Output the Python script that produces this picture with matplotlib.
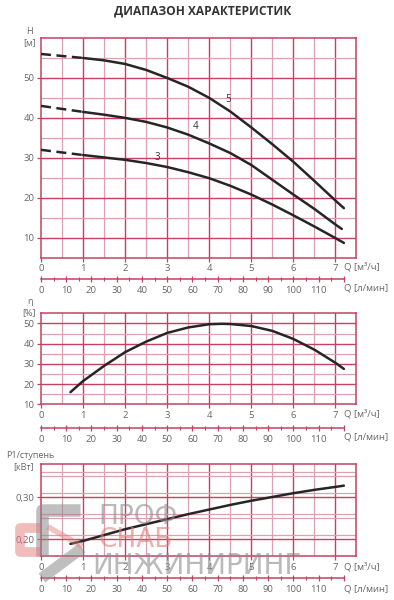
import matplotlib
matplotlib.use("Agg")
import matplotlib.pyplot as plt
from matplotlib.ticker import MultipleLocator, FixedLocator, FuncFormatter
import numpy as np

plt.rcParams['font.family'] = ['Open Sans', 'DejaVu Sans']

# ---------------- data ----------------
title = "ДИАПАЗОН ХАРАКТЕРИСТИК"

# H(Q) curves: dashed part (extrapolated) and solid part
h_curve_labels = ["3", "4", "5"]
h_dash_q = [0.0, 1.0]
h3_dash = [32.0, 30.7]
h4_dash = [43.0, 41.5]
h5_dash = [56.0, 55.0]

q3 = [1.0, 1.5, 2.0, 2.5, 3.0, 3.5, 4.0, 4.5, 5.0, 5.5, 6.0, 6.5, 7.0, 7.2]
h3 = [30.7, 30.1, 29.5, 28.7, 27.7, 26.4, 24.9, 23.0, 20.8, 18.3, 15.6, 12.8, 9.9, 8.7]

q4 = [1.0, 1.5, 2.0, 2.5, 3.0, 3.5, 4.0, 4.5, 5.0, 5.5, 6.0, 6.5, 7.0, 7.15]
h4 = [41.5, 40.8, 40.0, 39.0, 37.6, 35.8, 33.6, 31.2, 28.2, 24.5, 20.8, 17.2, 13.3, 12.2]

q5 = [1.0, 1.5, 2.0, 2.5, 3.0, 3.5, 4.0, 4.5, 5.0, 5.5, 6.0, 6.5, 7.0, 7.2]
h5 = [55.0, 54.4, 53.5, 52.0, 50.0, 47.8, 45.0, 41.6, 37.6, 33.4, 29.0, 24.2, 19.3, 17.4]

# efficiency
q_eta = [0.7, 1.0, 1.5, 2.0, 2.5, 3.0, 3.5, 4.0, 4.3, 4.5, 5.0, 5.5, 6.0, 6.5, 7.0, 7.2]
eta = [16.0, 21.5, 29.0, 35.8, 41.0, 45.3, 48.0, 49.6, 49.8, 49.7, 48.7, 46.3, 42.3, 37.0, 30.5, 27.5]

# power per stage
q_p = [0.7, 1.0, 1.5, 2.0, 2.5, 3.0, 3.5, 4.0, 4.5, 5.0, 5.5, 6.0, 6.5, 7.0, 7.2]
p1 = [0.189, 0.196, 0.210, 0.224, 0.236, 0.248, 0.260, 0.271, 0.282, 0.292, 0.301, 0.310, 0.318, 0.325, 0.328]

q_m3h_ticks = [0, 1, 2, 3, 4, 5, 6, 7]
q_lmin_ticks = [0, 10, 20, 30, 40, 50, 60, 70, 80, 90, 100, 110]

# ---------------- style ----------------
W, H = 394, 600
fig = plt.figure(figsize=(W / 100, H / 100), dpi=100)

MAJ = "#c4415f"
MIN = "#dba2b2"
CURVE = "#262626"
TXT = "#666666"
XMAX = 7.476
L = 41 / W
WID = (355.5 - 41) / W


def rect(top, bottom):
    return [L, 1 - bottom / H, WID, (bottom - top) / H]


def style_grid(ax, ymin, ymax, ymaj, ymin_step, yfmt):
    ax.set_xlim(0, XMAX)
    ax.set_ylim(ymin, ymax)
    # vertical lines
    for x in np.arange(0.5, 7.6, 0.5):
        major = abs(x - round(x)) < 1e-6
        ax.axvline(x, color=MAJ if major else MIN, lw=1.0 if major else 0.9, zorder=1)
    yv = ymin
    k = 0
    ys = np.arange(ymin, ymax + 1e-9, ymin_step)
    for y in ys:
        if y <= ymin + 1e-9 or y >= ymax - 1e-9:
            continue
        major = abs((y / ymaj) - round(y / ymaj)) < 1e-6
        ax.axhline(y, color=MAJ if major else MIN, lw=1.0 if major else 0.9, zorder=1)
    for s in ax.spines.values():
        s.set_color(MAJ)
        s.set_linewidth(1.1)
    ax.set_xticks(q_m3h_ticks)
    ax.tick_params(axis='both', colors=MAJ, labelcolor=TXT, labelsize=6.8,
                   length=3, width=0.9, direction='out', pad=1.8)
    ax.yaxis.set_major_formatter(yfmt)


def lmin_axis(ypx):
    a = fig.add_axes([L, 1 - ypx / H, WID, 0.001])
    a.set_xlim(0, XMAX * 1000 / 60)
    for side in ['top', 'left', 'right']:
        a.spines[side].set_visible(False)
    a.spines['bottom'].set_color(MAJ)
    a.spines['bottom'].set_linewidth(1.1)
    a.spines['bottom'].set_bounds(0, 120)
    a.set_yticks([])
    a.xaxis.set_major_locator(FixedLocator(q_lmin_ticks + [120]))
    a.xaxis.set_minor_locator(FixedLocator(list(np.arange(5, 120, 10))))
    a.xaxis.set_major_formatter(FuncFormatter(lambda v, p: "" if v >= 119 else f"{int(v)}"))
    a.tick_params(axis='x', which='major', colors=MAJ, labelcolor=TXT, labelsize=6.8,
                  length=5, width=0.9, direction='inout', pad=2.5)
    a.tick_params(axis='x', which='minor', colors=MAJ, length=3, width=0.8, direction='inout')
    a.patch.set_alpha(0)
    return a


def qlabels(ax, y1px, y2px):
    fig.text(344 / W, 1 - y1px / H, "Q [м³/ч]", fontsize=6.8, color=TXT, va='center', ha='left')
    fig.text(344 / W, 1 - y2px / H, "Q [л/мин]", fontsize=6.8, color=TXT, va='center', ha='left')


# ---------------- title ----------------
fig.text(203 / W, 1 - 11 / H, title, fontsize=8.6, fontweight='bold', color='#333333',
         ha='center', va='center')

# ---------------- H panel ----------------
ax1 = fig.add_axes(rect(38, 257.7))
style_grid(ax1, 5, 60, 10, 5, FuncFormatter(lambda v, p: f"{int(v)}"))
ax1.set_yticks([10, 20, 30, 40, 50])
for qd, hd, qs, hs in [(h_dash_q, h3_dash, q3, h3), (h_dash_q, h4_dash, q4, h4),
                       (h_dash_q, h5_dash, q5, h5)]:
    ax1.plot(qd, hd, color=CURVE, lw=1.8, ls=(0, (4, 2.2)), zorder=3, solid_capstyle='butt')
    ax1.plot(qs, hs, color=CURVE, lw=1.8, zorder=3, solid_capstyle='round')
ax1.text(2.76, 30.0, h_curve_labels[0], fontsize=7, color='#333333', ha='center', va='center')
ax1.text(3.67, 37.8, h_curve_labels[1], fontsize=7, color='#333333', ha='center', va='center')
ax1.text(4.46, 44.6, h_curve_labels[2], fontsize=7, color='#333333', ha='center', va='center')
fig.text(33 / W, 1 - 32 / H, "H", fontsize=6.5, color=TXT, ha='right', va='center')
fig.text(36 / W, 1 - 43 / H, "[м]", fontsize=6.5, color=TXT, ha='right', va='center')
lmin_axis(279)
qlabels(ax1, 266.5, 288)

# ---------------- efficiency panel ----------------
ax2 = fig.add_axes(rect(313.3, 404.3))
style_grid(ax2, 10, 55, 10, 5, FuncFormatter(lambda v, p: f"{int(v)}"))
ax2.set_yticks([10, 20, 30, 40, 50])
ax2.plot(q_eta, eta, color=CURVE, lw=1.8, zorder=3, solid_capstyle='round')
fig.text(33 / W, 1 - 301 / H, "η", fontsize=6.5, color=TXT, ha='right', va='center')
fig.text(36 / W, 1 - 313 / H, "[%]", fontsize=6.5, color=TXT, ha='right', va='center')
lmin_axis(428)
qlabels(ax2, 414, 437)

# ---------------- power panel ----------------
ax3 = fig.add_axes(rect(464.3, 556))
style_grid(ax3, 0.16, 0.379, 0.1, 0.05, FuncFormatter(lambda v, p: f"{v:.2f}".replace('.', ',')))
ax3.set_ylim(0.16, 0.379)
for y in [0.20, 0.30]:
    ax3.axhline(y, color=MAJ, lw=1.0, zorder=1)
for y in [0.25, 0.35]:
    ax3.axhline(y, color=MIN, lw=0.9, zorder=1)
ax3.set_yticks([0.20, 0.30])
ax3.plot(q_p, p1, color=CURVE, lw=1.8, zorder=3, solid_capstyle='round')
fig.text(6 / W, 1 - 455 / H, "P1/ступень", fontsize=6.5, color=TXT, ha='left', va='center')
fig.text(34 / W, 1 - 467 / H, "[кВт]", fontsize=6.5, color=TXT, ha='right', va='center')
lmin_axis(578)
qlabels(ax3, 567, 589)

# ---------------- watermark ----------------
fig.text(98 / W, 1 - 517 / H, "ПРОФ", fontsize=19, color='#8c8c8c', alpha=0.6,
         ha='left', va='center', family='DejaVu Sans')
fig.text(98 / W, 1 - 540 / H, "СНАБ", fontsize=19, color='#e37b7b', alpha=0.6,
         ha='left', va='center', family='DejaVu Sans')
fig.text(92 / W, 1 - 566 / H, "ИНЖИНИРИНГ", fontsize=20, color='#8c8c8c', alpha=0.6,
         ha='left', va='center', family='DejaVu Sans')
wm = fig.add_axes([0, 0, 1, 1], zorder=5)
wm.set_xlim(0, W)
wm.set_ylim(H, 0)
wm.axis('off')
wm.plot([42, 42, 80], [556, 510, 510], color='#8c8c8c', lw=9, alpha=0.55, solid_capstyle='butt')
wm.plot([42, 82], [578, 548], color='#8c8c8c', lw=8, alpha=0.55, solid_capstyle='butt')
wm.plot([40, 20, 20, 40], [528, 528, 552, 552], color='#e37b7b', lw=7, alpha=0.5, solid_capstyle='butt')
wm.plot([50, 80], [528, 545], color='#e37b7b', lw=4, alpha=0.45)

fig.savefig("out.png", dpi=100)
